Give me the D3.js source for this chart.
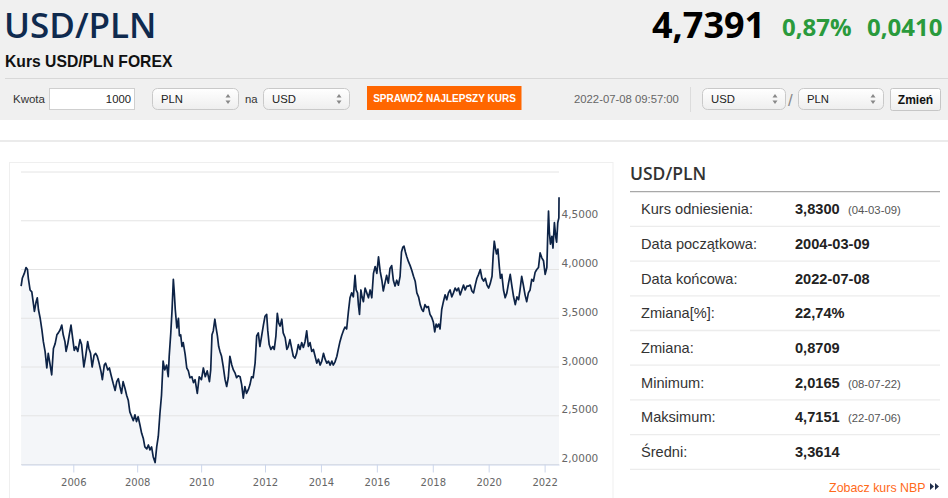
<!DOCTYPE html>
<html>
<head>
<meta charset="utf-8">
<script src="https://cdnjs.cloudflare.com/ajax/libs/d3/7.8.5/d3.min.js"></script>
<style>
html, body { margin: 0; padding: 0; background: #fff; overflow: hidden; }
svg { display: block; }
text { font-family: "Liberation Sans", Arial, sans-serif; }
</style>
</head>
<body>
<div id="page"></div>
<script>
// USD/PLN: [decimal year, rate]
var usdpln = [
    [2004.19, 3.83], [2004.23, 3.91], [2004.30, 3.96], [2004.36, 4.02], [2004.41, 4.00], [2004.44, 3.91],
    [2004.50, 3.79], [2004.56, 3.77], [2004.62, 3.64], [2004.65, 3.57], [2004.71, 3.67], [2004.75, 3.71],
    [2004.79, 3.59], [2004.85, 3.50], [2004.91, 3.38], [2004.96, 3.26], [2005.02, 3.16], [2005.08, 2.99],
    [2005.13, 3.14], [2005.18, 3.05], [2005.25, 2.92], [2005.31, 3.19], [2005.37, 3.24], [2005.43, 3.33],
    [2005.48, 3.35], [2005.54, 3.38], [2005.60, 3.43], [2005.65, 3.33], [2005.71, 3.26], [2005.75, 3.16],
    [2005.81, 3.24], [2005.86, 3.33], [2005.92, 3.43], [2005.98, 3.29], [2006.03, 3.17], [2006.08, 3.21],
    [2006.14, 3.16], [2006.21, 3.28], [2006.26, 3.23], [2006.33, 3.00], [2006.39, 3.12], [2006.45, 3.26],
    [2006.49, 3.19], [2006.54, 3.14], [2006.59, 3.00], [2006.65, 3.12], [2006.70, 3.14], [2006.75, 3.11],
    [2006.80, 3.05], [2006.87, 2.95], [2006.91, 2.87], [2006.97, 3.02], [2007.01, 3.04], [2007.08, 2.97],
    [2007.13, 2.99], [2007.18, 2.92], [2007.25, 2.83], [2007.31, 2.76], [2007.36, 2.85], [2007.41, 2.88],
    [2007.46, 2.80], [2007.51, 2.73], [2007.56, 2.85], [2007.62, 2.78], [2007.67, 2.71], [2007.72, 2.66],
    [2007.77, 2.54], [2007.83, 2.49], [2007.88, 2.45], [2007.93, 2.51], [2007.98, 2.44], [2008.03, 2.49],
    [2008.09, 2.40], [2008.14, 2.32], [2008.19, 2.27], [2008.24, 2.18], [2008.30, 2.16], [2008.35, 2.20],
    [2008.40, 2.15], [2008.45, 2.18], [2008.50, 2.08], [2008.56, 2.02], [2008.61, 2.18], [2008.66, 2.29],
    [2008.71, 2.52], [2008.76, 2.71], [2008.81, 3.06], [2008.86, 2.97], [2008.92, 3.02], [2008.97, 2.90],
    [2009.00, 3.11], [2009.05, 3.35], [2009.09, 3.59], [2009.13, 3.90], [2009.16, 3.76], [2009.19, 3.59],
    [2009.24, 3.40], [2009.29, 3.50], [2009.32, 3.32], [2009.36, 3.33], [2009.40, 3.21], [2009.44, 3.25],
    [2009.50, 3.13], [2009.55, 2.99], [2009.60, 2.96], [2009.65, 2.89], [2009.71, 2.90], [2009.76, 2.84],
    [2009.81, 2.87], [2009.88, 2.73], [2009.94, 2.90], [2010.01, 2.87], [2010.07, 2.99], [2010.13, 2.90],
    [2010.19, 2.96], [2010.26, 2.85], [2010.30, 2.97], [2010.34, 3.33], [2010.38, 3.37], [2010.43, 3.49],
    [2010.47, 3.40], [2010.51, 3.32], [2010.55, 3.21], [2010.59, 3.16], [2010.64, 3.11], [2010.69, 3.01],
    [2010.75, 2.87], [2010.80, 2.80], [2010.85, 2.89], [2010.90, 3.11], [2010.96, 3.02], [2011.01, 2.97],
    [2011.06, 2.94], [2011.11, 2.89], [2011.16, 2.91], [2011.22, 2.90], [2011.27, 2.82], [2011.32, 2.68],
    [2011.37, 2.80], [2011.42, 2.73], [2011.48, 2.77], [2011.53, 2.82], [2011.58, 2.90], [2011.63, 2.89],
    [2011.69, 3.04], [2011.74, 3.32], [2011.79, 3.35], [2011.84, 3.21], [2011.90, 3.33], [2011.95, 3.43],
    [2012.00, 3.52], [2012.06, 3.54], [2012.10, 3.37], [2012.15, 3.23], [2012.21, 3.18], [2012.28, 3.21],
    [2012.33, 3.18], [2012.39, 3.32], [2012.44, 3.55], [2012.49, 3.45], [2012.54, 3.42], [2012.60, 3.49],
    [2012.65, 3.35], [2012.72, 3.30], [2012.78, 3.18], [2012.83, 3.21], [2012.89, 3.28], [2012.96, 3.18],
    [2013.01, 3.11], [2013.07, 3.09], [2013.13, 3.14], [2013.19, 3.23], [2013.25, 3.18], [2013.31, 3.25],
    [2013.37, 3.20], [2013.43, 3.26], [2013.49, 3.37], [2013.55, 3.21], [2013.61, 3.25], [2013.67, 3.16],
    [2013.73, 3.18], [2013.79, 3.11], [2013.85, 3.04], [2013.91, 3.08], [2013.97, 3.02], [2014.03, 3.06],
    [2014.09, 3.14], [2014.15, 3.08], [2014.21, 3.04], [2014.27, 3.06], [2014.33, 3.02], [2014.39, 3.06],
    [2014.44, 3.02], [2014.50, 3.05], [2014.57, 3.11], [2014.62, 3.18], [2014.68, 3.26], [2014.74, 3.32],
    [2014.80, 3.37], [2014.86, 3.41], [2014.92, 3.39], [2014.98, 3.56], [2015.04, 3.71], [2015.10, 3.76],
    [2015.16, 3.72], [2015.22, 3.94], [2015.26, 3.79], [2015.31, 3.76], [2015.34, 3.64], [2015.38, 3.54],
    [2015.43, 3.79], [2015.47, 3.72], [2015.52, 3.67], [2015.58, 3.81], [2015.64, 3.76], [2015.70, 3.71],
    [2015.76, 3.79], [2015.82, 3.71], [2015.88, 3.96], [2015.94, 4.03], [2016.00, 3.96], [2016.06, 4.13],
    [2016.12, 3.98], [2016.18, 3.89], [2016.23, 3.78], [2016.29, 3.86], [2016.35, 3.94], [2016.41, 3.86],
    [2016.47, 4.01], [2016.53, 4.04], [2016.59, 3.89], [2016.65, 3.83], [2016.71, 3.89], [2016.77, 3.84],
    [2016.83, 3.93], [2016.88, 4.18], [2016.93, 4.23], [2016.97, 4.24], [2017.02, 4.18], [2017.07, 4.13],
    [2017.13, 4.08], [2017.19, 4.04], [2017.25, 3.99], [2017.31, 3.93], [2017.37, 3.88], [2017.43, 3.76],
    [2017.49, 3.72], [2017.55, 3.64], [2017.61, 3.59], [2017.66, 3.57], [2017.72, 3.64], [2017.78, 3.61],
    [2017.84, 3.62], [2017.90, 3.54], [2017.96, 3.51], [2018.02, 3.46], [2018.07, 3.36], [2018.12, 3.44],
    [2018.16, 3.41], [2018.21, 3.44], [2018.26, 3.39], [2018.32, 3.59], [2018.38, 3.67], [2018.44, 3.74],
    [2018.50, 3.69], [2018.56, 3.76], [2018.62, 3.79], [2018.68, 3.72], [2018.74, 3.76], [2018.80, 3.81],
    [2018.86, 3.78], [2018.92, 3.81], [2018.98, 3.74], [2019.04, 3.79], [2019.10, 3.84], [2019.16, 3.79],
    [2019.22, 3.83], [2019.28, 3.83], [2019.34, 3.84], [2019.40, 3.78], [2019.46, 3.76], [2019.52, 3.84],
    [2019.58, 3.91], [2019.64, 3.95], [2019.70, 4.00], [2019.76, 3.91], [2019.82, 3.88], [2019.88, 3.91],
    [2019.94, 3.84], [2020.00, 3.81], [2020.06, 3.86], [2020.12, 3.93], [2020.16, 4.14], [2020.20, 4.29],
    [2020.24, 4.22], [2020.28, 4.16], [2020.33, 4.21], [2020.38, 4.03], [2020.42, 3.91], [2020.47, 3.95],
    [2020.53, 3.79], [2020.59, 3.71], [2020.65, 3.76], [2020.71, 3.86], [2020.77, 3.95], [2020.83, 3.83],
    [2020.89, 3.72], [2020.95, 3.64], [2021.01, 3.72], [2021.07, 3.69], [2021.12, 3.79], [2021.18, 3.93],
    [2021.24, 3.84], [2021.30, 3.74], [2021.36, 3.67], [2021.42, 3.76], [2021.48, 3.79], [2021.54, 3.90],
    [2021.60, 3.88], [2021.66, 3.97], [2021.72, 4.00], [2021.78, 4.02], [2021.84, 4.17], [2021.90, 4.12],
    [2021.96, 4.09], [2022.02, 3.95], [2022.08, 4.02], [2022.11, 4.34], [2022.14, 4.60], [2022.17, 4.38],
    [2022.21, 4.26], [2022.26, 4.34], [2022.30, 4.22], [2022.35, 4.48], [2022.40, 4.33], [2022.43, 4.28],
    [2022.47, 4.48], [2022.51, 4.53], [2022.516, 4.74]
];

var yTicks = [2, 2.5, 3, 3.5, 4, 4.5, 5];
var xTicks = [2006, 2008, 2010, 2012, 2014, 2016, 2018, 2020, 2022];

var statLabels = ['Kurs odniesienia:', 'Data początkowa:', 'Data końcowa:', 'Zmiana[%]:',
    'Zmiana:', 'Minimum:', 'Maksimum:', 'Średni:'];
var statValues = ['3,8300', '2004-03-09', '2022-07-08', '22,74%', '0,8709', '2,0165', '4,7151', '3,3614'];
var statDates = ['(04-03-09)', '', '', '', '', '(08-07-22)', '(22-07-06)', ''];

var width = 948;
var height = 498;

var pl = d3.formatLocale({ decimal: ',', thousands: ' ', grouping: [3], currency: ['', ' zł'] });
var rate_format = pl.format('.4f');

function yearToDate(t) {
    var y = Math.floor(t);
    var a = Date.UTC(y, 0, 1), b = Date.UTC(y + 1, 0, 1);
    return new Date(a + (t - y) * (b - a));
}

var svg = d3.select('#page')
    .append('svg')
    .attr('width', width)
    .attr('height', height);

var defs = svg.append('defs');
var g1 = defs.append('linearGradient').attr('id', 'selbg').attr('x1', 0).attr('y1', 0).attr('x2', 0).attr('y2', 1);
g1.append('stop').attr('offset', '0%').attr('stop-color', '#ffffff');
g1.append('stop').attr('offset', '100%').attr('stop-color', '#eeeeee');

// ---------- header ----------
svg.append('rect').attr('x', 0).attr('y', 0).attr('width', width).attr('height', 120).attr('fill', '#f0f0f0');

svg.append('text').text('USD/PLN')
    .attr('x', 4).attr('y', 37.5)
    .style('font-family', '"Open Sans", sans-serif').style('font-weight', 600)
    .style('font-size', '35px').attr('fill', '#0f2a4e');

svg.append('text').text('Kurs USD/PLN FOREX')
    .attr('x', 5).attr('y', 66.5)
    .style('font-weight', 'bold').style('font-size', '15.7px').attr('fill', '#111');

svg.append('text').text('4,7391')
    .attr('x', 652).attr('y', 38.3)
    .style('font-family', '"Open Sans", sans-serif').style('font-weight', 700)
    .style('font-size', '36px').attr('fill', '#000');

svg.append('text').text('0,87%')
    .attr('x', 782).attr('y', 36)
    .style('font-family', '"Open Sans", sans-serif').style('font-weight', 700)
    .style('font-size', '24px').attr('fill', '#2a9a3c');

svg.append('text').text('0,0410')
    .attr('x', 867).attr('y', 36)
    .style('font-family', '"Open Sans", sans-serif').style('font-weight', 700)
    .style('font-size', '24px').attr('fill', '#2a9a3c');

svg.append('line').attr('x1', 5).attr('x2', width).attr('y1', 78.5).attr('y2', 78.5)
    .attr('stroke', '#d8d8d8');

// controls row
var ctl = svg.append('g').style('font-size', '11.3px');

ctl.append('text').text('Kwota').attr('x', 13).attr('y', 103).attr('fill', '#333').style('font-size', '11.5px');
ctl.append('rect').attr('x', 49.5).attr('y', 88.5).attr('width', 85).attr('height', 21)
    .attr('fill', '#fff').attr('stroke', '#cfcfcf');
ctl.append('text').text('1000').attr('x', 131).attr('y', 103).attr('text-anchor', 'end').attr('fill', '#222');

function select_box(x0, x1, label) {
    ctl.append('rect').attr('x', x0 + 0.5).attr('y', 88.5).attr('width', x1 - x0).attr('height', 21)
        .attr('rx', 5).attr('fill', 'url(#selbg)').attr('stroke', '#c9c9c9');
    ctl.append('text').text(label).attr('x', x0 + 9).attr('y', 103).attr('fill', '#222');
    var cx = x1 - 10;
    ctl.append('path')
        .attr('d', 'M' + (cx - 2.5) + ',97.5L' + (cx + 2.5) + ',97.5L' + cx + ',94Z' +
            'M' + (cx - 2.5) + ',100.5L' + (cx + 2.5) + ',100.5L' + cx + ',104Z')
        .attr('fill', '#888');
}
select_box(152, 238, 'PLN');
ctl.append('text').text('na').attr('x', 245).attr('y', 103).attr('fill', '#333');
select_box(263, 349, 'USD');

ctl.append('rect').attr('x', 367).attr('y', 86).attr('width', 154.5).attr('height', 24).attr('fill', '#ff6600');
ctl.append('text').text('SPRAWDŹ NAJLEPSZY KURS').attr('x', 444.5).attr('y', 101.8)
    .attr('text-anchor', 'middle').attr('fill', '#fff')
    .style('font-weight', 'bold').style('font-size', '10px');

ctl.append('text').text('2022-07-08 09:57:00').attr('x', 574).attr('y', 103).attr('fill', '#666');
ctl.append('line').attr('x1', 690.5).attr('x2', 690.5).attr('y1', 87).attr('y2', 112).attr('stroke', '#dcdcdc');

select_box(702, 785, 'USD');
ctl.append('text').text('/').attr('x', 788).attr('y', 106).attr('fill', '#888').style('font-size', '17px');
select_box(798, 883, 'PLN');

ctl.append('rect').attr('x', 890.5).attr('y', 88.5).attr('width', 50).attr('height', 22)
    .attr('rx', 2).attr('fill', 'url(#selbg)').attr('stroke', '#c6c6c6');
ctl.append('text').text('Zmień').attr('x', 915.5).attr('y', 104).attr('text-anchor', 'middle')
    .attr('fill', '#111').style('font-weight', 'bold').style('font-size', '12px');

// ---------- lower part ----------
svg.append('line').attr('x1', 0).attr('x2', width).attr('y1', 141).attr('y2', 141)
    .attr('stroke', '#ebebeb').attr('stroke-width', 2);

svg.append('rect').attr('x', 9.5).attr('y', 162.5).attr('width', 603.5).attr('height', 360)
    .attr('fill', 'none').attr('stroke', '#efefef');

// chart
var plot_left = 21, plot_right = 559, plot_top = 172, plot_bottom = 464.5;

// ordinal-like time axis: the early years are drawn wider than the later ones
var x_scale = d3.scaleUtc()
    .domain([new Date(Date.UTC(2004, 2, 9)), new Date(Date.UTC(2006, 0, 1)),
        new Date(Date.UTC(2012, 0, 1)), new Date(Date.UTC(2022, 6, 8))])
    .range([plot_left, 73.3, 265, plot_right]);

var y_scale = d3.scaleLinear()
    .domain([2, 5])
    .range([plot_bottom, plot_top]);

var chart = svg.append('g');

var area = d3.area()
    .x(function (d) { return x_scale(yearToDate(d[0])); })
    .y0(plot_bottom)
    .y1(function (d) { return y_scale(d[1]); });

var line = d3.line()
    .x(function (d) { return x_scale(yearToDate(d[0])); })
    .y(function (d) { return y_scale(d[1]); });

chart.append('path').datum(usdpln).attr('d', area).attr('fill', '#f4f6f9');

chart.selectAll('line.grid')
    .data(yTicks)
    .enter()
    .append('line')
    .attr('class', 'grid')
    .attr('x1', plot_left).attr('x2', plot_right)
    .attr('y1', function (d) { return y_scale(d); })
    .attr('y2', function (d) { return y_scale(d); })
    .attr('stroke', '#e4e4e4');

chart.append('path').datum(usdpln).attr('d', line)
    .attr('fill', 'none').attr('stroke', '#0d2346').attr('stroke-width', 1.7)
    .attr('stroke-linejoin', 'round');

// x axis
var x_axis = d3.axisBottom(x_scale)
    .tickValues(xTicks.map(function (y) { return new Date(Date.UTC(y, 0, 1)); }))
    .tickFormat(d3.utcFormat('%Y'))
    .tickSizeInner(8).tickSizeOuter(0).tickPadding(6);

var xg = chart.append('g').attr('transform', 'translate(0,' + plot_bottom + ')').call(x_axis);
xg.select('.domain').attr('stroke', '#ccd6eb');
xg.selectAll('.tick line').attr('stroke', '#ccd6eb');
xg.selectAll('.tick text').attr('fill', '#666')
    .style('font-family', '"DejaVu Sans", sans-serif').style('font-size', '10px');

// y labels on the right, last one hidden
chart.selectAll('text.ylab')
    .data(yTicks.filter(function (d) { return d < 5; }))
    .enter()
    .append('text')
    .attr('class', 'ylab')
    .text(function (d) { return rate_format(d); })
    .attr('x', 561.5)
    .attr('y', function (d) { return y_scale(d) - 2.5; })
    .attr('fill', '#666')
    .style('font-family', '"DejaVu Sans", sans-serif').style('font-size', '10.5px');

// ---------- stats panel ----------
var panel = svg.append('g');
panel.append('text').text('USD/PLN').attr('x', 630).attr('y', 180)
    .style('font-family', '"Open Sans", sans-serif').style('font-weight', 600)
    .style('font-size', '17.5px').attr('fill', '#333');
panel.append('line').attr('x1', 630).attr('x2', 940).attr('y1', 191.7).attr('y2', 191.7)
    .attr('stroke', '#a8a8a8').attr('stroke-width', 1.3);

var row_scale = d3.scaleLinear().domain([0, statLabels.length]).range([191.7, 469.3]);

panel.selectAll('line.sep')
    .data(statLabels)
    .enter()
    .append('line')
    .attr('x1', 630).attr('x2', 940)
    .attr('y1', function (d, i) { return row_scale(i + 1); })
    .attr('y2', function (d, i) { return row_scale(i + 1); })
    .attr('stroke', '#ececec').attr('stroke-width', 1.3);

panel.selectAll('text.lab')
    .data(statLabels)
    .enter()
    .append('text')
    .text(function (d) { return d; })
    .attr('x', 641)
    .attr('y', function (d, i) { return row_scale(i + 0.5) + 5.2; })
    .attr('fill', '#333').style('font-size', '14.6px');

panel.selectAll('text.val')
    .data(statValues)
    .enter()
    .append('text')
    .text(function (d) { return d; })
    .attr('x', 795)
    .attr('y', function (d, i) { return row_scale(i + 0.5) + 5.2; })
    .attr('fill', '#222').style('font-size', '14.6px').style('font-weight', 'bold');

panel.selectAll('text.dt')
    .data(statDates)
    .enter()
    .append('text')
    .text(function (d) { return d; })
    .attr('x', 848)
    .attr('y', function (d, i) { return row_scale(i + 0.5) + 5; })
    .attr('fill', '#555').style('font-size', '11.3px');

panel.append('text').text('Zobacz kurs NBP').attr('x', 925.5).attr('y', 491.5)
    .attr('text-anchor', 'end').attr('fill', '#ff6a1a').style('font-size', '12.4px');
panel.append('path')
    .attr('d', 'M930,483L934,486.5L930,490ZM935,483L939,486.5L935,490Z')
    .attr('fill', '#1f2d4a');
</script>
</body>
</html>
